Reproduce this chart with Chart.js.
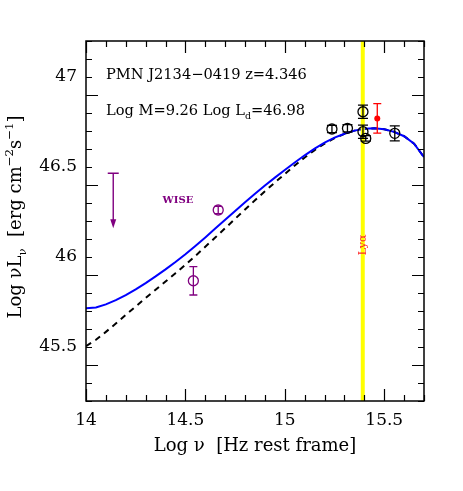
<!DOCTYPE html>
<html>
<head>
<meta charset="utf-8">
<script src="https://cdn.jsdelivr.net/npm/chart.js@4.4.0/dist/chart.umd.min.js"></script>
<style>
  body { margin: 0; background: #fff; }
  canvas { display: block; }
</style>
</head>
<body>
<canvas id="sed" width="463" height="491"></canvas>
<script>
// SED model curves (log nu vs log nuLnu)
var modelNu = [14.0, 14.05, 14.1, 14.15, 14.2, 14.25, 14.3, 14.35, 14.4, 14.45, 14.5, 14.55, 14.6, 14.65,
  14.7, 14.75, 14.8, 14.85, 14.9, 14.95, 15.0, 15.05, 15.1, 15.15, 15.2, 15.25, 15.3, 15.35, 15.4,
  15.45, 15.5, 15.55, 15.6, 15.65, 15.7];
var totalModel = [45.715, 45.72, 45.737, 45.76, 45.788, 45.82, 45.855, 45.892, 45.931, 45.972, 46.015,
  46.061, 46.109, 46.158, 46.207, 46.256, 46.304, 46.351, 46.397, 46.441, 46.483, 46.525, 46.565,
  46.602, 46.635, 46.663, 46.685, 46.702, 46.712, 46.715, 46.71, 46.695, 46.671, 46.63, 46.555];
var diskModel = [45.505, 45.54, 45.584, 45.63, 45.678, 45.725, 45.772, 45.818, 45.864, 45.91, 45.957,
  46.006, 46.057, 46.108, 46.16, 46.212, 46.264, 46.315, 46.365, 46.414, 46.461, 46.508, 46.553,
  46.594, 46.63, 46.66, 46.684, 46.702, 46.712, 46.715, 46.71, 46.695, 46.671, 46.63, 46.555];

// photometry
var optNu = [15.237, 15.315, 15.393, 15.393, 15.407, 15.553];
var optL = [46.711, 46.715, 46.807, 46.696, 46.659, 46.687];
var optErr = [0.02, 0.02, 0.037, 0.037, 0.015, 0.042];
var redNu = [15.465];
var redL = [46.77];
var redErr = [0.082];
var wiseNu = [14.665, 14.54];
var wiseL = [46.261, 45.868];
var wiseErr = [0.02, 0.079];
var ulNu = [14.137];
var ulL = [46.465];
var lyaNu = 15.392;

var xTicks = [14, 14.5, 15, 15.5];
var yTicks = [45.5, 46, 46.5, 47];

var FONT = '"DejaVu Serif"';
var PURPLE = '#800080';

function pts(xs, ys) {
  return xs.map(function (x, i) { return { x: x, y: ys[i] }; });
}

// text with sub/superscripts; parts = [[text, mode]] mode 0 normal, -1 sub, 1 sup
function richWidth(ctx, parts, size) {
  var w = 0;
  parts.forEach(function (p) {
    ctx.font = (p[1] ? size * 0.65 : size) + 'px ' + FONT;
    w += ctx.measureText(p[0]).width;
  });
  return w;
}
function richText(ctx, parts, x, y, size) {
  var cx = x;
  parts.forEach(function (p) {
    ctx.font = (p[1] ? size * 0.65 : size) + 'px ' + FONT;
    var dy = p[1] === -1 ? size * 0.3 : (p[1] === 1 ? -size * 0.42 : 0);
    ctx.fillText(p[0], cx, y + dy);
    cx += ctx.measureText(p[0]).width;
  });
}

var sedDecor = {
  id: 'sedDecor',
  afterDatasetsDraw: function (chart) {
    var ctx = chart.ctx, xs = chart.scales.x, ys = chart.scales.y, a = chart.chartArea;
    ctx.save();

    function errBar(nu, l, e, color, cap) {
      var px = xs.getPixelForValue(nu);
      var y1 = ys.getPixelForValue(l - e), y2 = ys.getPixelForValue(l + e);
      ctx.strokeStyle = color;
      ctx.lineWidth = 1.3;
      ctx.beginPath();
      ctx.moveTo(px, y1); ctx.lineTo(px, y2);
      ctx.moveTo(px - cap, y1); ctx.lineTo(px + cap, y1);
      ctx.moveTo(px - cap, y2); ctx.lineTo(px + cap, y2);
      ctx.stroke();
    }
    optNu.forEach(function (n, i) { errBar(n, optL[i], optErr[i], '#000', 5); });
    wiseNu.forEach(function (n, i) { errBar(n, wiseL[i], wiseErr[i], PURPLE, 4); });
    redNu.forEach(function (n, i) { errBar(n, redL[i], redErr[i], '#ff0000', 4); });

    // upper limit
    ulNu.forEach(function (n, i) {
      var px = xs.getPixelForValue(n), py = ys.getPixelForValue(ulL[i]);
      var pe = ys.getPixelForValue(ulL[i] - 0.3);
      ctx.strokeStyle = PURPLE; ctx.fillStyle = PURPLE; ctx.lineWidth = 1.4;
      ctx.beginPath();
      ctx.moveTo(px - 5.5, py); ctx.lineTo(px + 5.5, py);
      ctx.moveTo(px, py); ctx.lineTo(px, pe - 6);
      ctx.stroke();
      ctx.beginPath();
      ctx.moveTo(px - 3, pe - 8); ctx.lineTo(px + 3, pe - 8); ctx.lineTo(px, pe + 1);
      ctx.closePath(); ctx.fill();
    });

    // labels
    ctx.fillStyle = PURPLE;
    ctx.font = 'bold 10px ' + FONT;
    ctx.textAlign = 'center'; ctx.textBaseline = 'middle';
    ctx.fillText('WISE', xs.getPixelForValue(14.4625), ys.getPixelForValue(46.317));

    ctx.save();
    ctx.translate(xs.getPixelForValue(lyaNu), ys.getPixelForValue(46.067));
    ctx.rotate(-Math.PI / 2);
    ctx.fillStyle = '#ff2a2a';
    ctx.font = '11px ' + FONT;
    ctx.fillText('Lyα', 0, 0);
    ctx.restore();

    ctx.fillStyle = '#000';
    ctx.textAlign = 'left'; ctx.textBaseline = 'alphabetic';
    richText(ctx, [['PMN J2134\u22120419 z=4.346', 0]], a.left + 20, 79, 14.6);
    richText(ctx, [['Log M=9.26 Log L', 0], ['d', -1], ['=46.98', 0]], a.left + 20, 115, 14.6);

    // frame and inward ticks on all sides
    ctx.strokeStyle = '#000';
    ctx.lineWidth = 1.5;
    ctx.strokeRect(a.left, a.top, a.right - a.left, a.bottom - a.top);
    ctx.lineWidth = 1.2;
    ctx.beginPath();
    for (var i = 0; i <= 17; i++) {
      var px = Math.round(xs.getPixelForValue(14 + i * 0.1)) + 0.5;
      var len = (i % 5 === 0) ? 12 : 6;
      ctx.moveTo(px, a.bottom); ctx.lineTo(px, a.bottom - len);
      ctx.moveTo(px, a.top); ctx.lineTo(px, a.top + len);
    }
    for (var j = 0; j <= 20; j++) {
      var py = Math.round(ys.getPixelForValue(45.2 + j * 0.1)) + 0.5;
      var ylen = ((j + 3) % 5 === 0) ? 12 : 6;
      ctx.moveTo(a.left, py); ctx.lineTo(a.left + ylen, py);
      ctx.moveTo(a.right, py); ctx.lineTo(a.right - ylen, py);
    }
    ctx.stroke();

    // axis titles
    ctx.fillStyle = '#000';
    var xt = [['Log \u03bd  [Hz rest frame]', 0]];
    var xw = richWidth(ctx, xt, 18);
    richText(ctx, xt, (a.left + a.right) / 2 - xw / 2, 451, 18);

    var yt = [['Log \u03bdL', 0], ['\u03bd', -1], ['  [erg cm', 0], ['\u22122', 1], ['s', 0], ['\u22121', 1], [']', 0]];
    var yw = richWidth(ctx, yt, 18);
    ctx.save();
    ctx.translate(21, 217);
    ctx.rotate(-Math.PI / 2);
    richText(ctx, yt, -yw / 2, 0, 18);
    ctx.restore();

    ctx.restore();
  }
};

new Chart(document.getElementById('sed'), {
  type: 'scatter',
  data: {
    datasets: [
      {
        data: pts(optNu, optL), pointStyle: 'circle', pointRadius: 5, pointBackgroundColor: 'rgba(0,0,0,0)',
        pointBorderColor: '#000', pointBorderWidth: 1.3, showLine: false, order: 1
      },
      {
        data: pts(wiseNu, wiseL), pointStyle: 'circle', pointRadius: 5, pointBackgroundColor: 'rgba(0,0,0,0)',
        pointBorderColor: PURPLE, pointBorderWidth: 1.3, showLine: false, order: 1
      },
      {
        data: pts(redNu, redL), pointRadius: 3, pointBackgroundColor: '#ff0000',
        pointBorderColor: '#ff0000', pointBorderWidth: 0, showLine: false, order: 1
      },
      {
        data: [{ x: lyaNu, y: 45.2 }, { x: lyaNu, y: 47.2 }], showLine: true, pointRadius: 0,
        borderColor: '#ffff00', borderWidth: 4, order: 2
      },
      {
        data: pts(modelNu, totalModel), showLine: true, pointRadius: 0, borderColor: '#0000ff',
        borderWidth: 2, tension: 0, order: 3
      },
      {
        data: pts(modelNu, diskModel), showLine: true, pointRadius: 0, borderColor: '#000',
        borderWidth: 2, borderDash: [6, 5], tension: 0, order: 4
      }
    ]
  },
  options: {
    responsive: false,
    devicePixelRatio: 1,
    animation: false,
    events: [],
    layout: { padding: { left: 0, top: 41, right: 39, bottom: 0 } },
    plugins: { legend: { display: false }, tooltip: { enabled: false } },
    scales: {
      x: {
        type: 'linear', min: 14, max: 15.7,
        grid: { display: false, drawTicks: false }, border: { display: false },
        afterBuildTicks: function (s) { s.ticks = xTicks.map(function (v) { return { value: v }; }); },
        afterFit: function (s) { s.height = 90; },
        ticks: { padding: 9, color: '#000', font: { family: FONT, size: 17 }, maxRotation: 0,
          callback: function (v) { return String(v); } }
      },
      y: {
        type: 'linear', min: 45.2, max: 47.2,
        grid: { display: false, drawTicks: false }, border: { display: false },
        afterBuildTicks: function (s) { s.ticks = yTicks.map(function (v) { return { value: v }; }); },
        afterFit: function (s) { s.width = 86; },
        ticks: { padding: 9, color: '#000', font: { family: FONT, size: 17 },
          callback: function (v) { return String(v); } }
      }
    }
  },
  plugins: [sedDecor]
});
</script>
</body>
</html>
